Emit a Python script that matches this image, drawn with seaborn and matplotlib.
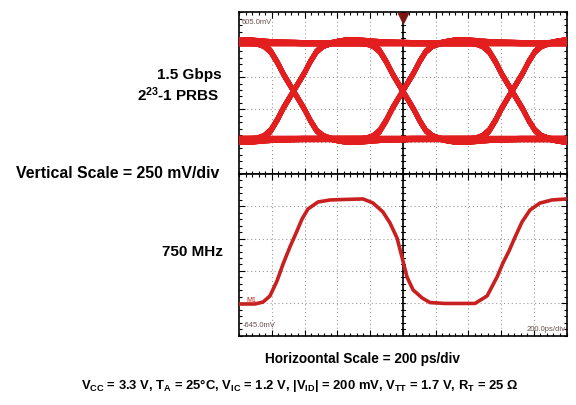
import numpy as np
import pandas as pd
import matplotlib
matplotlib.use('Agg')
import matplotlib.pyplot as plt
import seaborn as sns

# scope screen
t_span_ps = 2000          # 10 div x 200 ps/div
v_top_mv = 605.0
v_bot_mv = -645.0
v_div_mv = 250
t_div_ps = 200
trigger_ps = 1000

# 1.5 Gbps eye: crossing times, rails and the shape of one (rising) edge
eye_crossings_ps = [-333, 333, 1000, 1667]
eye_high_mv = 368
eye_low_mv = -374
edge_tau_ps = [-260, -220, -180, -140, -100, -64, -30, 0, 30, 64, 100, 140, 180, 220, 260, 330, 420, 520, 700]
edge_norm = [-1.0, -0.99, -0.94, -0.82, -0.6, -0.36, -0.17, 0.0, 0.17, 0.36, 0.6, 0.82, 0.94, 0.99,
             1.02, 1.06, 1.05, 1.02, 1.0]
trace_spread_mv = [-10, 0, 10]

# 750 MHz clock trace
clk_t_ps = [0, 98, 147, 189, 232, 269, 311, 354, 385, 421, 482, 556, 647, 757, 818, 879, 922,
            965, 995, 1026, 1063, 1118, 1166, 1258, 1441, 1515, 1576, 1612, 1649, 1686, 1728,
            1777, 1838, 1911, 2000]
clk_mv = [-401, -401, -386, -339, -223, -92, 40, 164, 257, 334, 388, 404, 408, 412, 381, 311, 226,
          110, -37, -192, -292, -354, -390, -397, -397, -339, -192, -84, 9, 117, 233,
          326, 380, 404, 412]

eye_red = '#e21e1e'
clk_red = '#c81f1f'
label_col = '#6a5050'

sns.set_style('white')
plt.rcParams['font.family'] = ['Liberation Sans', 'DejaVu Sans']
plt.rcParams['text.color'] = 'black'
plt.rcParams['mathtext.fontset'] = 'custom'
plt.rcParams['mathtext.rm'] = 'Liberation Sans'
plt.rcParams['mathtext.bf'] = 'Liberation Sans:bold'
plt.rcParams['mathtext.default'] = 'bf'

# build eye traces from every bit pattern around the visible window
t = np.arange(0, t_span_ps + 1, 4)
mid = (eye_high_mv + eye_low_mv) / 2
amp = (eye_high_mv - eye_low_mv) / 2
frames = []
uid = 0
nbits = len(eye_crossings_ps) + 1
for pat in range(2 ** nbits):
    s = [1 if (pat >> k) & 1 else -1 for k in range(nbits)]
    v = np.full(t.shape, float(s[0]))
    for k, c in enumerate(eye_crossings_ps):
        step = (s[k + 1] - s[k]) / 2
        if step:
            v += step * (np.interp(t - c, edge_tau_ps, edge_norm) + 1)
    for dv in trace_spread_mv:
        frames.append(pd.DataFrame({'t': t, 'mv': mid + amp * v + dv, 'trace': uid}))
        uid += 1
eye_df = pd.concat(frames, ignore_index=True)
clk_df = pd.DataFrame({'t': clk_t_ps, 'mv': clk_mv})

fig = plt.figure(figsize=(5.76, 4.05), dpi=100)
ax_top = fig.add_axes([239 / 576, 1 - 174 / 405, 327.5 / 576, 161.5 / 405])
ax_bot = fig.add_axes([239 / 576, 1 - 335.5 / 405, 327.5 / 576, 161.5 / 405])

xmaj = np.arange(t_div_ps, t_span_ps, t_div_ps)
xmin = np.arange(0, t_span_ps + 1, t_div_ps / 5)
ymaj = np.arange(v_bot_mv + v_div_mv, v_top_mv - 1, v_div_mv)
ymin = np.arange(v_bot_mv, v_top_mv + 1, v_div_mv / 5)

for ax in (ax_top, ax_bot):
    ax.set_xlim(0, t_span_ps)
    ax.set_ylim(v_bot_mv, v_top_mv)
    ax.set_xticks(xmaj)
    ax.set_yticks(ymaj)
    ax.set_xticks(xmin, minor=True)
    ax.set_yticks(ymin, minor=True)
    ax.tick_params(which='both', direction='in', top=True, right=True, bottom=True, left=True,
                   labelbottom=False, labelleft=False, color='black', width=0.8)
    ax.tick_params(which='major', length=4)
    ax.tick_params(which='minor', length=2.5)
    ax.grid(True, which='major', color='#9a9a9a', ls=(0, (1, 2.5)), lw=0.8)
    for sp in ax.spines.values():
        sp.set_color('black')
        sp.set_linewidth(1.2)
    ax.axvline(trigger_ps, color='black', lw=1.2, zorder=2)
    for y in ymin:
        ax.plot([trigger_ps - 12, trigger_ps + 12], [y, y], color='black', lw=0.8, zorder=2)

sns.lineplot(data=eye_df, x='t', y='mv', units='trace', estimator=None, color=eye_red,
             lw=2.6, ax=ax_top, legend=False, zorder=3)
sns.lineplot(data=clk_df, x='t', y='mv', estimator=None, sort=False, color=clk_red,
             lw=2.6, ax=ax_bot, legend=False, zorder=3)
for ax in (ax_top, ax_bot):
    ax.set_xlabel('')
    ax.set_ylabel('')

# trigger marker and scope readouts
ax_top.plot(trigger_ps, v_top_mv - 45, marker='v', ms=7, color='#7d1512', zorder=5, clip_on=False)
ax_top.text(0.008, 0.96, f'{v_top_mv:.1f}mV', transform=ax_top.transAxes, fontsize=5.5,
            color=label_col, ha='left', va='top')
ax_bot.text(0.01, 0.065, f'{v_bot_mv:.1f}mV', transform=ax_bot.transAxes, fontsize=5.5,
            color=label_col, ha='left', va='center')
ax_bot.text(0.997, 0.04, f'{t_div_ps:.1f}ps/div', transform=ax_bot.transAxes, fontsize=5.5,
            color=label_col, ha='right', va='center')
ax_bot.text(75, clk_mv[0] + 25, 'M1', fontsize=5, color=clk_red, ha='center', va='center', zorder=4)

fs = 11
fig.text(222 / 576, 1 - 79 / 405, '1.5 Gbps', fontsize=fs, fontweight='bold', ha='right', va='baseline')
fig.text(219 / 576, 1 - 100.7 / 405, r'2$^{23}$-1 PRBS', fontsize=fs, fontweight='bold', ha='right', va='baseline')
fig.text(219 / 576, 1 - 178 / 405, 'Vertical Scale = 250 mV/div', fontsize=11.4, fontweight='bold',
         ha='right', va='baseline')
fig.text(222.5 / 576, 1 - 256 / 405, '750 MHz', fontsize=fs, fontweight='bold', ha='right', va='baseline')
fig.text(362.5 / 576, 1 - 363 / 405, 'Horizoontal Scale = 200 ps/div', fontsize=9.8, fontweight='bold',
         ha='center', va='baseline')
fig.text(300 / 576, 1 - 389 / 405,
         r'V$_{CC}$ = 3.3 V, T$_{A}$ = 25°C, V$_{IC}$ = 1.2 V, |V$_{ID}$| = 200 mV, V$_{TT}$ = 1.7 V, R$_{T}$ = 25 Ω',
         fontsize=9.4, fontweight='bold', ha='center', va='baseline')

fig.savefig('out.png', dpi=100)
